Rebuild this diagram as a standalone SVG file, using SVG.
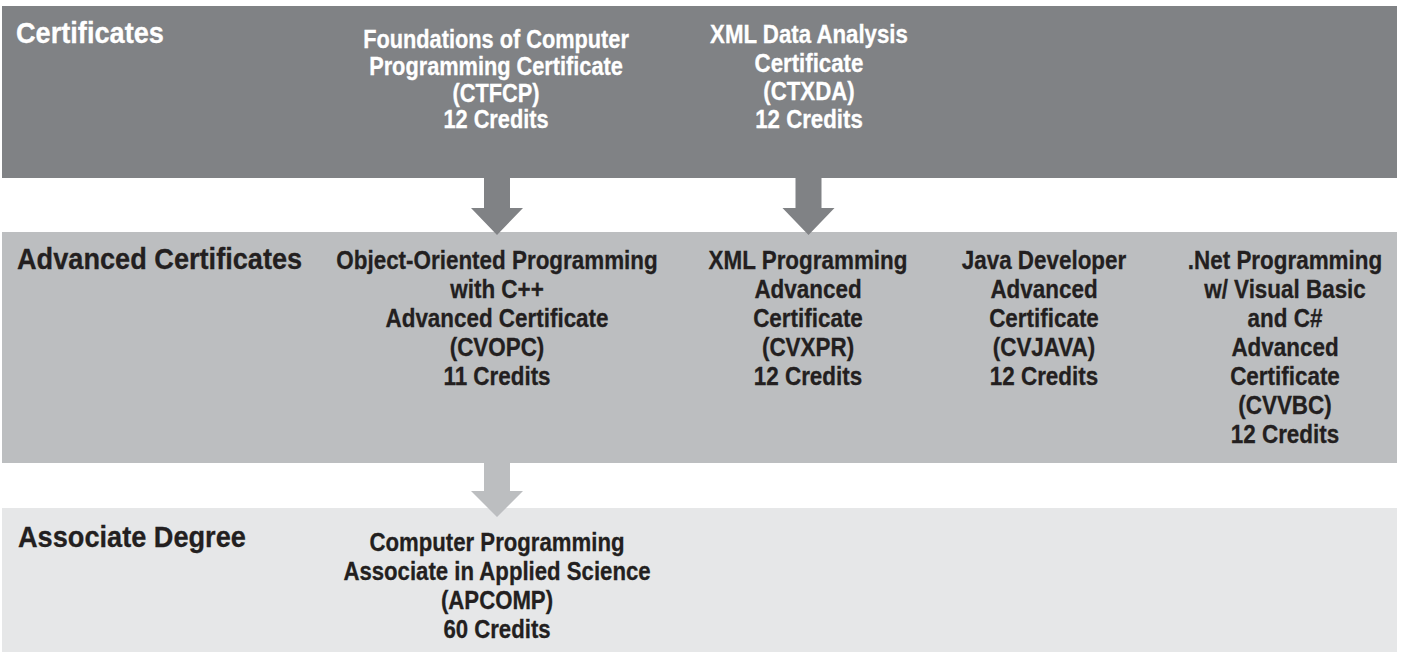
<svg xmlns="http://www.w3.org/2000/svg" width="1403" height="654" viewBox="0 0 1403 654">
<style>
  .band1{fill:#808285}
  .band2{fill:#bcbec0}
  .band3{fill:#e6e7e8}
  text{font-family:"Liberation Sans",Arial,"DejaVu Sans",sans-serif;font-weight:bold}
  .head{font-size:30px}
  .body{font-size:26px;text-anchor:middle}
  .small{font-size:25px}
  .w{fill:#ffffff;stroke:#ffffff;stroke-width:0.3px}
  .d{fill:#231f20;stroke:#231f20;stroke-width:0.3px}
</style>
<rect width="1403" height="654" fill="#ffffff"/>
<g id="band-certificates">
  <rect class="band1" x="2" y="6" width="1395" height="172"/>
  <text class="head w" transform="translate(16,43) scale(0.905,1)">Certificates</text>
</g>
<g id="band-advanced">
  <rect class="band2" x="2" y="232" width="1395" height="231"/>
  <text class="head d" transform="translate(17,269) scale(0.905,1)">Advanced Certificates</text>
</g>
<g id="band-associate">
  <rect class="band3" x="2" y="508" width="1395" height="144"/>
  <text class="head d" transform="translate(18,547) scale(0.905,1)">Associate Degree</text>
</g>
<g id="connectors">
  <path class="band1" d="M484,178 H510 V208 H523 L497,235 L471,208 H484 Z"/>
  <path class="band1" d="M795.5,178 H821.5 V208 H834.5 L808.5,235 L782.5,208 H795.5 Z"/>
  <path class="band2" d="M484,463 H510 V491 H523 L497,517 L471,491 H484 Z"/>
</g>
<g id="node-ctfcp" transform="translate(496,0) scale(0.87,1)">
  <text class="body small w" x="0" y="48">Foundations of Computer</text>
  <text class="body small w" x="0" y="75">Programming Certificate</text>
  <text class="body small w" x="0" y="102">(CTFCP)</text>
  <text class="body small w" x="0" y="128.5">12 Credits</text>
</g>
<g id="node-ctxda" transform="translate(809,0) scale(0.89,1)">
  <text class="body small w" x="0" y="43.5">XML Data Analysis</text>
  <text class="body small w" x="0" y="71.7">Certificate</text>
  <text class="body small w" x="0" y="100">(CTXDA)</text>
  <text class="body small w" x="0" y="128.5">12 Credits</text>
</g>
<g id="node-cvopc" transform="translate(497,0) scale(0.863,1)">
  <text class="body d" x="0" y="269">Object-Oriented Programming</text>
  <text class="body d" x="0" y="298">with C++</text>
  <text class="body d" x="0" y="327">Advanced Certificate</text>
  <text class="body d" x="0" y="356">(CVOPC)</text>
  <text class="body d" x="0" y="385">11 Credits</text>
</g>
<g id="node-cvxpr" transform="translate(808,0) scale(0.863,1)">
  <text class="body d" x="0" y="269">XML Programming</text>
  <text class="body d" x="0" y="298">Advanced</text>
  <text class="body d" x="0" y="327">Certificate</text>
  <text class="body d" x="0" y="356">(CVXPR)</text>
  <text class="body d" x="0" y="385">12 Credits</text>
</g>
<g id="node-cvjava" transform="translate(1044,0) scale(0.863,1)">
  <text class="body d" x="0" y="269">Java Developer</text>
  <text class="body d" x="0" y="298">Advanced</text>
  <text class="body d" x="0" y="327">Certificate</text>
  <text class="body d" x="0" y="356">(CVJAVA)</text>
  <text class="body d" x="0" y="385">12 Credits</text>
</g>
<g id="node-cvvbc" transform="translate(1285,0) scale(0.863,1)">
  <text class="body d" x="0" y="269">.Net Programming</text>
  <text class="body d" x="0" y="298">w/ Visual Basic</text>
  <text class="body d" x="0" y="327">and C#</text>
  <text class="body d" x="0" y="356">Advanced</text>
  <text class="body d" x="0" y="385">Certificate</text>
  <text class="body d" x="0" y="414">(CVVBC)</text>
  <text class="body d" x="0" y="443">12 Credits</text>
</g>
<g id="node-apcomp" transform="translate(497,0) scale(0.853,1)">
  <text class="body d" x="0" y="551">Computer Programming</text>
  <text class="body d" x="0" y="580">Associate in Applied Science</text>
  <text class="body d" x="0" y="609">(APCOMP)</text>
  <text class="body d" x="0" y="638">60 Credits</text>
</g>
</svg>
